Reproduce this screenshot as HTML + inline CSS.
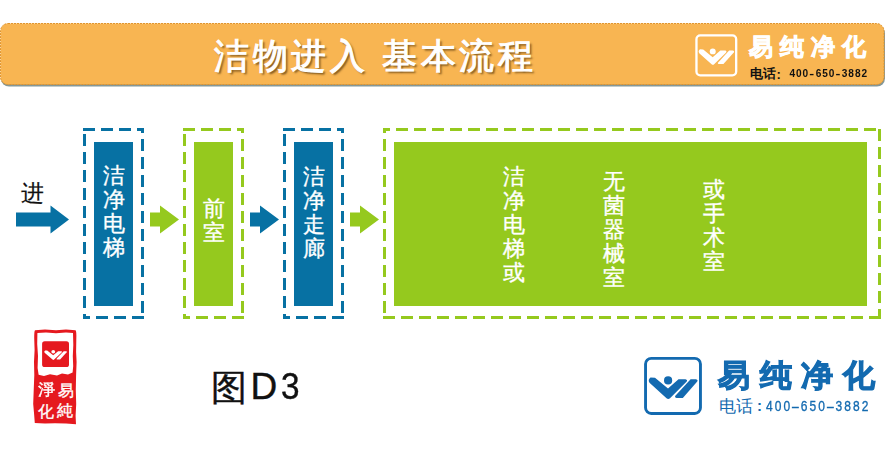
<!DOCTYPE html>
<html><head><meta charset="utf-8">
<style>
*{margin:0;padding:0;box-sizing:border-box}
html,body{width:886px;height:458px;overflow:hidden;background:#fff;font-family:"Liberation Sans",sans-serif}
.a{position:absolute}
.hdr{left:0;top:23px;width:885px;height:62px;background:#f6b352;border-radius:8px;border:1px dashed #e0972e;box-shadow:1px 2px 1px rgba(70,90,90,.75)}
.title{top:31px;font-size:35px;letter-spacing:3.5px;color:#fff;white-space:nowrap;text-shadow:2px 2px 2px rgba(80,50,10,.7);line-height:50px;-webkit-text-stroke:1px #fff}
.vt{color:#fff;font-size:22px;line-height:24px;-webkit-text-stroke:0.35px #fff;width:24px;text-align:center}
.blue{background:#0771a3}
.green{background:#95c91e}
</style></head><body>
<svg class="a" style="left:0;top:18px" width="886" height="75" viewBox="0 18 886 75">
<defs><filter id="bl" x="-5%" y="-20%" width="110%" height="140%"><feGaussianBlur stdDeviation="0.6"/></filter></defs>
<rect x="1" y="25.6" width="884" height="61" rx="8" fill="#6f8686" filter="url(#bl)" opacity="0.85"/>
<rect x="0.5" y="23.5" width="883.5" height="61" rx="7.5" fill="#f8b552" stroke="#e0952f" stroke-width="1" stroke-dasharray="2 1"/>
</svg>
<div class="a title" style="left:214px">洁物进入</div>
<div class="a title" style="left:382px">基本流程</div>

<!-- header logo -->
<svg class="a" style="left:695px;top:34px" width="43" height="43" viewBox="643.7 356.5 59.1 59.1">
<rect x="645.7" y="358.5" width="54.6" height="54.8" rx="5.2" fill="none" stroke="#fff" stroke-width="3.2"/>
<g fill="#fff">
<circle cx="668.1" cy="380.4" r="4.1"/>
<path d="M650.5 377.6L655 377.8L668 388.6L678.5 379.2L685.5 379.3Q688 380 686.5 381.8L670 398.2Q668.3 399.6 666.5 398.2L649.5 382.8Q647.5 380 650.5 377.6Z"/>
<path d="M690.6 379.2L696 379.3Q698.5 380 697 381.8L682.8 397.9L676.5 397.9Q674 397.5 675.6 395.5Z"/>
</g>
</svg>
<div class="a" style="left:749px;top:32px;font-size:24px;font-weight:bold;color:#fff;letter-spacing:7px;-webkit-text-stroke:0.9px #fff;white-space:nowrap;line-height:30px">易纯净化</div>
<div class="a" style="left:750px;top:65px;font-size:13px;font-weight:bold;color:#111;white-space:nowrap;line-height:18px">电话</div>
<div class="a" style="left:776.5px;top:65.5px;font-size:13px;font-weight:bold;color:#111;white-space:nowrap;line-height:18px">:</div>
<div class="a" style="left:789px;top:65px;font-size:11.5px;font-weight:bold;color:#111;white-space:nowrap;line-height:16px;transform:scaleX(0.88);transform-origin:0 0"><span style="display:inline-block;width:7.443px;text-align:center">4</span><span style="display:inline-block;width:7.443px;text-align:center">0</span><span style="display:inline-block;width:7.443px;text-align:center">0</span><span style="display:inline-block;width:7.443px;text-align:center;transform:scaleX(1.45)">-</span><span style="display:inline-block;width:7.443px;text-align:center">6</span><span style="display:inline-block;width:7.443px;text-align:center">5</span><span style="display:inline-block;width:7.443px;text-align:center">0</span><span style="display:inline-block;width:7.443px;text-align:center;transform:scaleX(1.45)">-</span><span style="display:inline-block;width:7.443px;text-align:center">3</span><span style="display:inline-block;width:7.443px;text-align:center">8</span><span style="display:inline-block;width:7.443px;text-align:center">8</span><span style="display:inline-block;width:7.443px;text-align:center">2</span></div>

<!-- diagram -->
<div class="a" style="left:20.5px;top:179px;font-size:23px;color:#111;line-height:28px;-webkit-text-stroke:0.2px #111">进</div>
<svg class="a" style="left:0;top:120px" width="886" height="210" viewBox="0 120 886 210">
<g fill="#0771a3"><path d="M16 212.5H50.5V205.5L69 219.5L50.5 233.5V226.5H16Z"/><path d="M250 212.5H260V205.5L279 219.5L260 233.5V226.5H250Z"/></g>
<g fill="#95c91e"><path d="M150 212.5H160V205.5L179 219.5L160 233.5V226.5H150Z"/><path d="M350 212.5H360V205.5L379 219.5L360 233.5V226.5H350Z"/></g>
<g fill="#0771a3"><rect x="83" y="128" width="12" height="3"/><rect x="101" y="128" width="12" height="3"/><rect x="119" y="128" width="12" height="3"/><rect x="137" y="128" width="7" height="3"/><rect x="141" y="128" width="3" height="5"/><rect x="141" y="139" width="3" height="12"/><rect x="141" y="157" width="3" height="12"/><rect x="141" y="175" width="3" height="12"/><rect x="141" y="193" width="3" height="12"/><rect x="141" y="211" width="3" height="12"/><rect x="141" y="229" width="3" height="12"/><rect x="141" y="247" width="3" height="12"/><rect x="141" y="265" width="3" height="12"/><rect x="141" y="283" width="3" height="12"/><rect x="141" y="301" width="3" height="12"/><rect x="132" y="316" width="12" height="3"/><rect x="114" y="316" width="12" height="3"/><rect x="96" y="316" width="12" height="3"/><rect x="83" y="316" width="7" height="3"/><rect x="83" y="314" width="3" height="5"/><rect x="83" y="296" width="3" height="12"/><rect x="83" y="278" width="3" height="12"/><rect x="83" y="260" width="3" height="12"/><rect x="83" y="242" width="3" height="12"/><rect x="83" y="224" width="3" height="12"/><rect x="83" y="206" width="3" height="12"/><rect x="83" y="188" width="3" height="12"/><rect x="83" y="170" width="3" height="12"/><rect x="83" y="152" width="3" height="12"/><rect x="83" y="134" width="3" height="12"/><rect x="283" y="128" width="12" height="3"/><rect x="301" y="128" width="12" height="3"/><rect x="319" y="128" width="12" height="3"/><rect x="337" y="128" width="7" height="3"/><rect x="341" y="128" width="3" height="5"/><rect x="341" y="139" width="3" height="12"/><rect x="341" y="157" width="3" height="12"/><rect x="341" y="175" width="3" height="12"/><rect x="341" y="193" width="3" height="12"/><rect x="341" y="211" width="3" height="12"/><rect x="341" y="229" width="3" height="12"/><rect x="341" y="247" width="3" height="12"/><rect x="341" y="265" width="3" height="12"/><rect x="341" y="283" width="3" height="12"/><rect x="341" y="301" width="3" height="12"/><rect x="332" y="316" width="12" height="3"/><rect x="314" y="316" width="12" height="3"/><rect x="296" y="316" width="12" height="3"/><rect x="283" y="316" width="7" height="3"/><rect x="283" y="314" width="3" height="5"/><rect x="283" y="296" width="3" height="12"/><rect x="283" y="278" width="3" height="12"/><rect x="283" y="260" width="3" height="12"/><rect x="283" y="242" width="3" height="12"/><rect x="283" y="224" width="3" height="12"/><rect x="283" y="206" width="3" height="12"/><rect x="283" y="188" width="3" height="12"/><rect x="283" y="170" width="3" height="12"/><rect x="283" y="152" width="3" height="12"/><rect x="283" y="134" width="3" height="12"/></g>
<g fill="#95c91e"><rect x="183" y="128" width="12" height="3"/><rect x="201" y="128" width="12" height="3"/><rect x="219" y="128" width="12" height="3"/><rect x="237" y="128" width="7" height="3"/><rect x="241" y="128" width="3" height="5"/><rect x="241" y="139" width="3" height="12"/><rect x="241" y="157" width="3" height="12"/><rect x="241" y="175" width="3" height="12"/><rect x="241" y="193" width="3" height="12"/><rect x="241" y="211" width="3" height="12"/><rect x="241" y="229" width="3" height="12"/><rect x="241" y="247" width="3" height="12"/><rect x="241" y="265" width="3" height="12"/><rect x="241" y="283" width="3" height="12"/><rect x="241" y="301" width="3" height="12"/><rect x="232" y="316" width="12" height="3"/><rect x="214" y="316" width="12" height="3"/><rect x="196" y="316" width="12" height="3"/><rect x="183" y="316" width="7" height="3"/><rect x="183" y="314" width="3" height="5"/><rect x="183" y="296" width="3" height="12"/><rect x="183" y="278" width="3" height="12"/><rect x="183" y="260" width="3" height="12"/><rect x="183" y="242" width="3" height="12"/><rect x="183" y="224" width="3" height="12"/><rect x="183" y="206" width="3" height="12"/><rect x="183" y="188" width="3" height="12"/><rect x="183" y="170" width="3" height="12"/><rect x="183" y="152" width="3" height="12"/><rect x="183" y="134" width="3" height="12"/><rect x="383" y="128" width="7" height="3"/><rect x="383" y="128" width="3" height="5"/><rect x="396" y="128" width="12" height="3"/><rect x="414" y="128" width="12" height="3"/><rect x="432" y="128" width="12" height="3"/><rect x="450" y="128" width="12" height="3"/><rect x="468" y="128" width="12" height="3"/><rect x="486" y="128" width="12" height="3"/><rect x="504" y="128" width="12" height="3"/><rect x="522" y="128" width="12" height="3"/><rect x="540" y="128" width="12" height="3"/><rect x="558" y="128" width="12" height="3"/><rect x="576" y="128" width="12" height="3"/><rect x="594" y="128" width="12" height="3"/><rect x="612" y="128" width="12" height="3"/><rect x="630" y="128" width="12" height="3"/><rect x="648" y="128" width="12" height="3"/><rect x="666" y="128" width="12" height="3"/><rect x="684" y="128" width="12" height="3"/><rect x="702" y="128" width="12" height="3"/><rect x="720" y="128" width="12" height="3"/><rect x="738" y="128" width="12" height="3"/><rect x="756" y="128" width="12" height="3"/><rect x="774" y="128" width="12" height="3"/><rect x="792" y="128" width="12" height="3"/><rect x="810" y="128" width="12" height="3"/><rect x="828" y="128" width="12" height="3"/><rect x="846" y="128" width="12" height="3"/><rect x="864" y="128" width="12" height="3"/><rect x="878" y="129" width="3" height="12"/><rect x="878" y="147" width="3" height="12"/><rect x="878" y="165" width="3" height="12"/><rect x="878" y="183" width="3" height="12"/><rect x="878" y="201" width="3" height="12"/><rect x="878" y="219" width="3" height="12"/><rect x="878" y="237" width="3" height="12"/><rect x="878" y="255" width="3" height="12"/><rect x="878" y="273" width="3" height="12"/><rect x="878" y="291" width="3" height="12"/><rect x="878" y="309" width="3" height="10"/><rect x="383" y="316" width="12" height="3"/><rect x="401" y="316" width="12" height="3"/><rect x="419" y="316" width="12" height="3"/><rect x="437" y="316" width="12" height="3"/><rect x="455" y="316" width="12" height="3"/><rect x="473" y="316" width="12" height="3"/><rect x="491" y="316" width="12" height="3"/><rect x="509" y="316" width="12" height="3"/><rect x="527" y="316" width="12" height="3"/><rect x="545" y="316" width="12" height="3"/><rect x="563" y="316" width="12" height="3"/><rect x="581" y="316" width="12" height="3"/><rect x="599" y="316" width="12" height="3"/><rect x="617" y="316" width="12" height="3"/><rect x="635" y="316" width="12" height="3"/><rect x="653" y="316" width="12" height="3"/><rect x="671" y="316" width="12" height="3"/><rect x="689" y="316" width="12" height="3"/><rect x="707" y="316" width="12" height="3"/><rect x="725" y="316" width="12" height="3"/><rect x="743" y="316" width="12" height="3"/><rect x="761" y="316" width="12" height="3"/><rect x="779" y="316" width="12" height="3"/><rect x="797" y="316" width="12" height="3"/><rect x="815" y="316" width="12" height="3"/><rect x="833" y="316" width="12" height="3"/><rect x="851" y="316" width="12" height="3"/><rect x="869" y="316" width="12" height="3"/><rect x="383" y="139" width="3" height="12"/><rect x="383" y="157" width="3" height="12"/><rect x="383" y="175" width="3" height="12"/><rect x="383" y="193" width="3" height="12"/><rect x="383" y="211" width="3" height="12"/><rect x="383" y="229" width="3" height="12"/><rect x="383" y="247" width="3" height="12"/><rect x="383" y="265" width="3" height="12"/><rect x="383" y="283" width="3" height="12"/><rect x="383" y="301" width="3" height="12"/></g>

</svg>
<div class="a blue" style="left:94px;top:142px;width:39px;height:164px"></div>
<div class="a green" style="left:194px;top:142px;width:39px;height:164px"></div>
<div class="a blue" style="left:294px;top:142px;width:39px;height:164px"></div>
<div class="a green" style="left:394px;top:142px;width:473px;height:164px"></div>

<div class="a vt" style="left:102px;top:164px">洁<br>净<br>电<br>梯</div>
<div class="a vt" style="left:202px;top:196.5px">前<br>室</div>
<div class="a vt" style="left:302px;top:164.5px">洁<br>净<br>走<br>廊</div>
<div class="a vt" style="left:502px;top:164.5px">洁<br>净<br>电<br>梯<br>或</div>
<div class="a vt" style="left:602px;top:169.5px">无<br>菌<br>器<br>械<br>室</div>
<div class="a vt" style="left:702px;top:178px">或<br>手<br>术<br>室</div>

<!-- caption -->
<div class="a" style="left:210.5px;top:365.5px;font-size:36px;color:#111;line-height:44px;-webkit-text-stroke:0.4px #111">图</div>
<div class="a" style="left:250.5px;top:364.5px;font-size:37px;color:#111;line-height:44px;-webkit-text-stroke:0.4px #111;white-space:nowrap">D<span style="margin-left:3.5px;display:inline-block;transform:scaleX(0.9);transform-origin:0 0">3</span></div>

<!-- bottom logo -->
<svg class="a" style="left:643px;top:355px" width="61" height="61" viewBox="643 355 61 61">
<rect x="645.55" y="358.35" width="54.9" height="55.1" rx="5.7" fill="none" stroke="#136ab0" stroke-width="2.9"/>
<g fill="#136ab0">
<circle cx="668.1" cy="380.4" r="4.1"/>
<path d="M650.5 377.6L655 377.8L668 388.6L678.5 379.2L685.5 379.3Q688 380 686.5 381.8L670 398.2Q668.3 399.6 666.5 398.2L649.5 382.8Q647.5 380 650.5 377.6Z"/>
<path d="M690.6 379.2L696 379.3Q698.5 380 697 381.8L682.8 397.9L676.5 397.9Q674 397.5 675.6 395.5Z"/>
</g>
</svg>
<div class="a" style="left:718px;top:354px;font-size:33px;font-weight:bold;color:#136ab0;letter-spacing:10.3px;white-space:nowrap;line-height:42px;-webkit-text-stroke:1.2px #136ab0;transform:scale(0.96,0.93);transform-origin:0 37px">易纯净化</div>
<div class="a" style="left:719px;top:396px;font-size:16.5px;color:#136ab0;white-space:nowrap;line-height:20px">电话</div>
<div class="a" style="left:757px;top:396px;font-size:15px;color:#136ab0;white-space:nowrap;line-height:20px;font-weight:bold">:</div>
<div class="a" style="left:765px;top:396px;font-size:15px;color:#136ab0;white-space:nowrap;line-height:20px;-webkit-text-stroke:0.35px #136ab0;transform:scaleX(0.8);transform-origin:0 0"><span style="display:inline-block;width:10.875px;text-align:center">4</span><span style="display:inline-block;width:10.875px;text-align:center">0</span><span style="display:inline-block;width:10.875px;text-align:center">0</span><span style="display:inline-block;width:10.875px;text-align:center">&#8211;</span><span style="display:inline-block;width:10.875px;text-align:center">6</span><span style="display:inline-block;width:10.875px;text-align:center">5</span><span style="display:inline-block;width:10.875px;text-align:center">0</span><span style="display:inline-block;width:10.875px;text-align:center">&#8211;</span><span style="display:inline-block;width:10.875px;text-align:center">3</span><span style="display:inline-block;width:10.875px;text-align:center">8</span><span style="display:inline-block;width:10.875px;text-align:center">8</span><span style="display:inline-block;width:10.875px;text-align:center">2</span></div>

<!-- seal -->
<svg class="a" style="left:30px;top:326px" width="52" height="104" viewBox="30 326 52 104">
<path fill="#e5191f" d="M35 330.2L45 329.6L56 330.3L66 329.5L75.6 330.2Q76.6 331 76.3 340L76.1 352L76.6 362L76.1 375L75.8 390L76.2 404L75.6 416L76 424.2L66 423.6L55 423.2L45 423.4L34.8 423L34.1 414L33.2 404L33.8 388L34.3 375L34.0 362L34.6 350L34.2 338Q34.2 331 35 330.2Z"/>
<path fill="#fff" d="M37.4 333L46 332.6L56 333.2L66 332.5L73 333L73.3 345L72.8 356L73.2 366L72.6 372.5L68 374.5L62 373.5L57 375.5L50 374.2L44 376L38.6 374.8L37.6 368L38 356L37.2 344Z"/>
<rect x="42.1" y="341.3" width="26.9" height="25.7" rx="2.6" fill="#e5191f"/>
<g fill="#fff" transform="translate(42.1 341.3) scale(0.465 0.443) translate(-644.1 -356.9)">
<circle cx="668.1" cy="380.4" r="4.1"/>
<path d="M650.5 377.6L655 377.8L668 388.6L678.5 379.2L685.5 379.3Q688 380 686.5 381.8L670 398.2Q668.3 399.6 666.5 398.2L649.5 382.8Q647.5 380 650.5 377.6Z"/>
<path d="M690.6 379.2L696 379.3Q698.5 380 697 381.8L682.8 397.9L676.5 397.9Q674 397.5 675.6 395.5Z"/>
</g>
</svg>
<div class="a" style="left:39px;top:381.6px;font-size:16px;line-height:16px;color:#fff;-webkit-text-stroke:0.35px #fff;transform:scaleX(1.08)">淨</div>
<div class="a" style="left:58px;top:383px;font-size:16px;line-height:16px;color:#fff;-webkit-text-stroke:0.35px #fff">易</div>
<div class="a" style="left:37.7px;top:403.5px;font-size:16px;line-height:16px;color:#fff;-webkit-text-stroke:0.35px #fff">化</div>
<div class="a" style="left:56.6px;top:403.2px;font-size:16px;line-height:16px;color:#fff;-webkit-text-stroke:0.35px #fff">純</div>
</body></html>
